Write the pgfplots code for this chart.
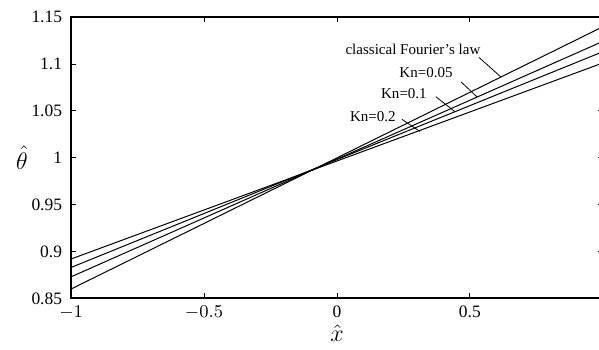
\documentclass[border=0pt]{standalone}
\usepackage{pgfplots}
\pgfplotsset{compat=1.18}
\usepackage{fontspec}
\setmainfont{Liberation Serif}
\begin{document}
\begin{tikzpicture}
\begin{axis}[
  scale only axis,
  width=265.5pt, height=140.5pt,
  xmin=-1, xmax=1, ymin=0.85, ymax=1.15,
  xtick={-1,-0.5,0,0.5},
  xticklabels={$-1$,$-0.5$,0,0.5},
  ytick={0.85,0.9,0.95,1,1.05,1.1,1.15},
  yticklabels={0.85,0.9,0.95,1,1.05,1.1,1.15},
  tick align=inside,
  major tick length=2.5pt,
  tick style={black, line width=0.4pt},
  axis line style={line width=0.9pt},
  ticklabel style={font=\fontsize{8.7}{10}\selectfont},
  yticklabel style={xshift=-1pt},
  clip=false,
]
\addplot[black, line width=0.5pt] coordinates {(-1,0.860) (1,1.1396)};
\addplot[black, line width=0.5pt] coordinates {(-1,0.873) (1,1.124)};
\addplot[black, line width=0.5pt] coordinates {(-1,0.883) (1,1.113)};
\addplot[black, line width=0.5pt] coordinates {(-1,0.892) (1,1.101)};
\begin{scope}[font=\fontsize{7.5}{9}\selectfont]
\node at (axis cs:0.286,1.116) {classical Fourier's law};
\draw[line width=0.4pt] (axis cs:0.534,1.107) -- (axis cs:0.617,1.086);
\node at (axis cs:0.335,1.091) {Kn=0.05};
\draw[line width=0.4pt] (axis cs:0.466,1.081) -- (axis cs:0.526,1.065);
\node at (axis cs:0.252,1.068) {Kn=0.1};
\draw[line width=0.4pt] (axis cs:0.372,1.065) -- (axis cs:0.444,1.049);
\node at (axis cs:0.135,1.044) {Kn=0.2};
\draw[line width=0.4pt] (axis cs:0.244,1.041) -- (axis cs:0.312,1.028);
\end{scope}
\node[inner sep=0pt, font=\fontsize{11.5}{13}\selectfont] at ([xshift=-24.5pt]rel axis cs:0,0.5) {$\hat{\theta}$};
\node[inner sep=0pt, font=\fontsize{11.5}{13}\selectfont] at ([yshift=-17.5pt]axis cs:0,0.85) {$\hat{x}$};
\coordinate (sw) at (rel axis cs:0,0);
\coordinate (ne) at (rel axis cs:1,1);
\end{axis}
\pgfresetboundingbox
\path ([shift={(-35.5pt,-25.5pt)}]sw) rectangle ([shift={(-1.9pt,8.5pt)}]ne);
\end{tikzpicture}
\end{document}
